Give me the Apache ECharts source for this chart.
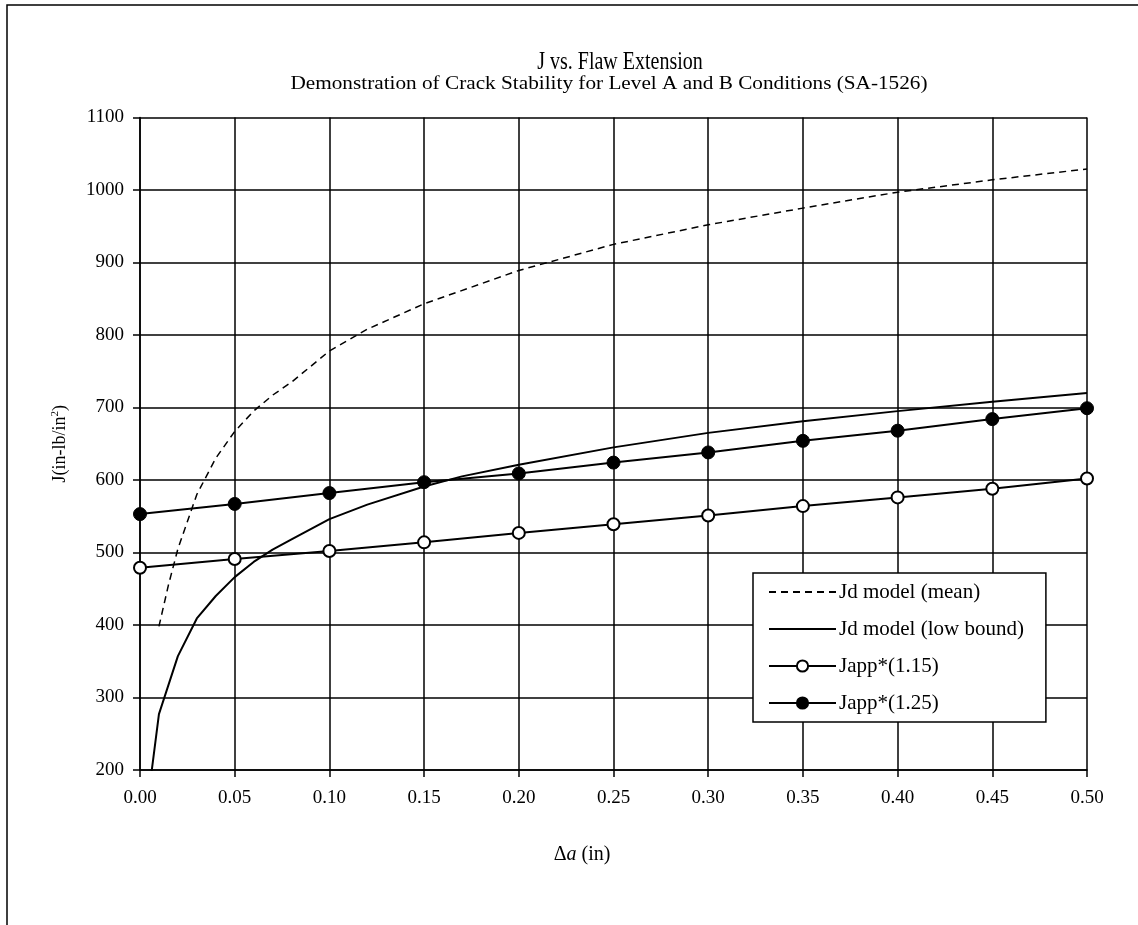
<!DOCTYPE html>
<html>
<head>
<meta charset="utf-8">
<script src="https://cdn.jsdelivr.net/npm/echarts@6/dist/echarts.min.js"></script>
<style>
  html, body { margin: 0; padding: 0; background: #fff; }
  #chart { width: 1138px; height: 925px; }
</style>
</head>
<body>
<div id="chart"></div>
<script>
// Applied J at the flaw-extension steps (in-lb/in^2)
const appX = [0, 0.05, 0.10, 0.15, 0.20, 0.25, 0.30, 0.35, 0.40, 0.45, 0.50];
const japp115 = [479, 491, 502, 514, 527, 539, 551, 564, 576, 588, 602];
const japp125 = [553, 567, 582, 597, 609, 624, 638, 654, 668, 684, 699];

// Material J-R resistance curves
const jdLowX = [0.0055, 0.01, 0.02, 0.03, 0.04, 0.05, 0.06, 0.07, 0.08, 0.10, 0.12, 0.15, 0.17, 0.20, 0.25, 0.30, 0.35, 0.40, 0.45, 0.50];
const jdLow  = [185, 277, 357, 409, 440, 466, 487, 504, 518, 546, 566, 591, 605, 621, 645, 665, 681, 695, 708, 720];
const jdMeanX = [0.010, 0.015, 0.02, 0.03, 0.04, 0.05, 0.06, 0.07, 0.08, 0.10, 0.12, 0.15, 0.20, 0.25, 0.30, 0.35, 0.40, 0.45, 0.50];
const jdMean  = [398, 455, 505, 580, 630, 667, 695, 717, 735, 778, 808, 843, 889, 925, 952, 975, 997, 1014, 1029];

const seriesNames = ['Jd model (mean)', 'Jd model (low bound)', 'Japp*(1.15)', 'Japp*(1.25)'];

const zip = (xs, ys) => xs.map((x, i) => [x, ys[i]]);
const FONT = '"Liberation Serif", "Times New Roman", serif';

const chart = echarts.init(document.getElementById('chart'), null, { renderer: 'canvas' });

chart.setOption({
  animation: false,
  backgroundColor: '#fff',
  textStyle: { fontFamily: FONT, color: '#000' },
  grid: { left: 140, right: 51, top: 117.5, bottom: 155, containLabel: false },
  xAxis: {
    type: 'value', min: 0, max: 0.5, interval: 0.05,
    axisLine: { show: true, lineStyle: { color: '#000', width: 1.5 } },
    axisTick: { show: true, inside: false, length: 7, lineStyle: { color: '#000', width: 1.5 } },
    axisLabel: { fontFamily: FONT, fontSize: 19, color: '#000', margin: 19,
                 formatter: v => v.toFixed(2) },
    splitLine: { show: true, lineStyle: { color: '#000', width: 1.5 } }
  },
  yAxis: {
    type: 'value', min: 200, max: 1100, interval: 100,
    name: '{n|J(in-lb/in}{s|2}{n|)}',
    nameLocation: 'middle', nameRotate: 90, nameGap: 70,
    nameTextStyle: {
      rich: {
        n: { fontFamily: FONT, fontSize: 18, color: '#000', lineHeight: 20 },
        s: { fontFamily: FONT, fontSize: 11, color: '#000', lineHeight: 12, verticalAlign: 'top' }
      }
    },
    axisLine: { show: true, lineStyle: { color: '#000', width: 1.5 } },
    axisTick: { show: true, inside: false, length: 7, lineStyle: { color: '#000', width: 1.5 } },
    axisLabel: { fontFamily: FONT, fontSize: 19, color: '#000', margin: 16,
                 formatter: v => String(v) },
    splitLine: { show: true, lineStyle: { color: '#000', width: 1.5 } }
  },
  legend: {
    orient: 'vertical',
    left: 753, top: 573,
    data: [
      { name: seriesNames[0], itemStyle: { opacity: 0 } },
      { name: seriesNames[1], itemStyle: { opacity: 0 } },
      { name: seriesNames[2] },
      { name: seriesNames[3] }
    ],
    selectedMode: false,
    backgroundColor: '#fff',
    borderColor: '#000', borderWidth: 1.5,
    padding: [8, 22, 8, 15],
    itemWidth: 67, itemHeight: 14, itemGap: 15,
    textStyle: { fontFamily: FONT, fontSize: 21, color: '#000', lineHeight: 22, padding: [0, 0, 0, -2] }
  },
  series: [
    {
      name: seriesNames[0], type: 'line', data: zip(jdMeanX, jdMean),
      showSymbol: false, symbol: 'none', clip: true,
      lineStyle: { color: '#000', width: 1.5, type: [7, 5] },
      itemStyle: { color: '#000' }, z: 2
    },
    {
      name: seriesNames[1], type: 'line', data: zip(jdLowX, jdLow),
      showSymbol: false, symbol: 'none', clip: true,
      lineStyle: { color: '#000', width: 2 },
      itemStyle: { color: '#000' }, z: 2
    },
    {
      name: seriesNames[2], type: 'line', data: zip(appX, japp115),
      symbol: 'circle', symbolSize: 12, clip: true,
      lineStyle: { color: '#000', width: 2 },
      itemStyle: { color: '#fff', borderColor: '#000', borderWidth: 2 }, z: 3
    },
    {
      name: seriesNames[3], type: 'line', data: zip(appX, japp125),
      symbol: 'circle', symbolSize: 13, clip: true,
      lineStyle: { color: '#000', width: 2 },
      itemStyle: { color: '#000', borderColor: '#000', borderWidth: 1 }, z: 3
    }
  ],
  graphic: [
    {
      type: 'rect', silent: true,
      shape: { x: 7, y: 5, width: 1145, height: 935 },
      style: { fill: 'none', stroke: '#000', lineWidth: 1.5 }
    },
    {
      type: 'text', x: 620, y: 62, scaleX: 0.8,
      style: { text: 'J vs. Flaw Extension', font: '25px ' + FONT, fill: '#000',
               align: 'center', verticalAlign: 'middle', textAlign: 'center', textVerticalAlign: 'middle' }
    },
    {
      type: 'text', x: 609, y: 84, scaleX: 1.18,
      style: { text: 'Demonstration of Crack Stability for Level A and B Conditions (SA-1526)',
               font: '18px ' + FONT, fill: '#000',
               align: 'center', verticalAlign: 'middle', textAlign: 'center', textVerticalAlign: 'middle' }
    },
    {
      type: 'text', x: 582, y: 855,
      style: {
        text: '{n|Δ}{i|a}{n| (in)}',
        align: 'center', verticalAlign: 'middle', textAlign: 'center', textVerticalAlign: 'middle',
        rich: {
          n: { fontFamily: FONT, fontSize: 20, fill: '#000', color: '#000' },
          i: { fontFamily: FONT, fontSize: 20, fontStyle: 'italic', fill: '#000', color: '#000' }
        }
      }
    }
  ]
});
</script>
</body>
</html>
